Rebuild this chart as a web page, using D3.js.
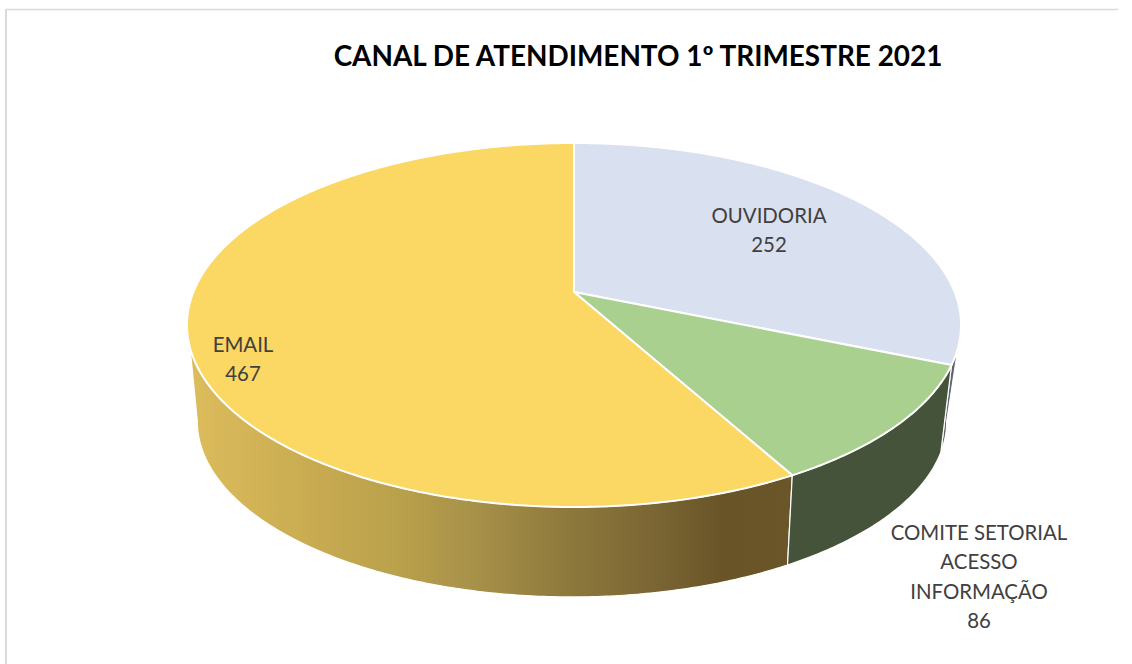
<!DOCTYPE html>
<html>
<head>
<meta charset="utf-8">
<script src="https://cdn.jsdelivr.net/npm/d3@7"></script>
<style>
  body { margin: 0; background: #fff; }
  text { font-family: Lato, sans-serif; }
</style>
</head>
<body>
<div id="chart"></div>
<script>
const categories = ['OUVIDORIA', 'COMITE SETORIAL ACESSO INFORMAÇÃO', 'EMAIL']
const values = [252, 86, 467]
const topColors = ['#d9e0f0', '#a9d08e', '#fbd764']
const sideColors = ['#5f6474', '#445339', 'url(#email-side)']
const labelLines = [['OUVIDORIA', '252'], ['COMITE SETORIAL', 'ACESSO', 'INFORMAÇÃO', '86'], ['EMAIL', '467']]
const labelAnchors = [[769, 216], [979, 533], [243, 345]]

const width = 1132
const height = 664

const svg = d3.select('#chart').append('svg')
  .attr('width', width)
  .attr('height', height)

// light frame, only the top and left edges show in the picture
svg.append('line').attr('x1', 6).attr('x2', 1118).attr('y1', 9.5).attr('y2', 9.5)
  .attr('stroke', '#d9d9d9').attr('stroke-width', 1.5)
svg.append('line').attr('x1', 6).attr('x2', 6).attr('y1', 9).attr('y2', height)
  .attr('stroke', '#d9d9d9').attr('stroke-width', 2)

svg.append('text')
  .attr('x', 638)
  .attr('y', 66)
  .attr('text-anchor', 'middle')
  .attr('font-size', 27.9)
  .attr('font-weight', 700)
  .attr('fill', '#000')
  .text('CANAL DE ATENDIMENTO 1º TRIMESTRE 2021')

// side wall shading of the big slice
const sideStops = [
  [0, '#dcbc5c'], [0.18, '#cbad52'], [0.35, '#b9a04b'], [0.47, '#a8924a'],
  [0.62, '#8f7a3c'], [0.77, '#7b6634'], [0.89, '#685427'], [1, '#6a5628']
]
const grad = svg.append('defs').append('linearGradient')
  .attr('id', 'email-side')
  .attr('gradientUnits', 'userSpaceOnUse')
  .attr('x1', 190).attr('x2', 790).attr('y1', 0).attr('y2', 0)
grad.selectAll('stop').data(sideStops).enter().append('stop')
  .attr('offset', d => d[0])
  .attr('stop-color', d => d[1])

// the disc is seen in perspective, so the centre sits above the middle of the ellipse
const persp = 0.1813
const topDisc = { cx: 574, cy: 292, a: 380.6, b: 176 }
const bottomDisc = { cx: 572, cy: 389.3, a: 368.5, b: 170 }

const rad = deg => deg * Math.PI / 180
// where the wall silhouette leaves each disc
const topVisible = [rad(107.5), rad(252.5)]
const bottomVisible = [rad(100.4), rad(259.6)]

function project(disc, angle) {
  const w = 1 - persp * -Math.cos(angle)
  return [disc.cx + disc.a * Math.sin(angle) / w, disc.cy + disc.b * -Math.cos(angle) / w]
}

function arcPoints(disc, start, end) {
  const n = Math.max(2, Math.ceil((end - start) / 0.01))
  return d3.range(n + 1).map(i => project(disc, start + (end - start) * i / n))
}

const bottomAngle = a => a - 0.05 * Math.sin(a) * Math.sin(a)

const line = d3.line()

const pie = d3.pie().sort(null)
const slices = pie(values)

function wallPath(s) {
  const t0 = Math.max(s.startAngle, topVisible[0])
  const t1 = Math.min(s.endAngle, topVisible[1])
  const b0 = s.startAngle === 0 ? bottomVisible[0] : bottomAngle(s.startAngle)
  const b1 = s.endAngle >= 2 * Math.PI - 0.001 ? bottomVisible[1] : bottomAngle(s.endAngle)
  return line(arcPoints(topDisc, t0, t1).concat(arcPoints(bottomDisc, b0, b1).reverse())) + 'Z'
}

// walls first: right one, then the big one, then the front one on top
const wallOrder = [0, 2, 1]
svg.selectAll('.wall')
  .data(wallOrder)
  .enter()
  .append('path')
  .attr('class', 'wall')
  .attr('d', i => wallPath(slices[i]))
  .attr('fill', i => sideColors[i])
  .attr('stroke', '#fff')
  .attr('stroke-width', 1.2)
  .attr('stroke-linejoin', 'round')

svg.selectAll('.slice')
  .data(slices)
  .enter()
  .append('path')
  .attr('class', 'slice')
  .attr('d', s => line([[topDisc.cx, topDisc.cy]].concat(arcPoints(topDisc, s.startAngle, s.endAngle))) + 'Z')
  .attr('fill', (s, i) => topColors[i])
  .attr('stroke', '#fff')
  .attr('stroke-width', 2)
  .attr('stroke-linejoin', 'round')

const lineStep = 29.3
const labels = svg.selectAll('.label')
  .data(labelLines)
  .enter()
  .append('text')
  .attr('class', 'label')
  .attr('text-anchor', 'middle')
  .attr('font-size', 20.4)
  .attr('fill', '#404040')

labels.selectAll('tspan')
  .data((d, i) => d.map((t, j) => ({ t, j, i })))
  .enter()
  .append('tspan')
  .attr('x', d => labelAnchors[d.i][0])
  .attr('y', d => labelAnchors[d.i][1] + 7 + d.j * lineStep)
  .text(d => d.t)
</script>
</body>
</html>
